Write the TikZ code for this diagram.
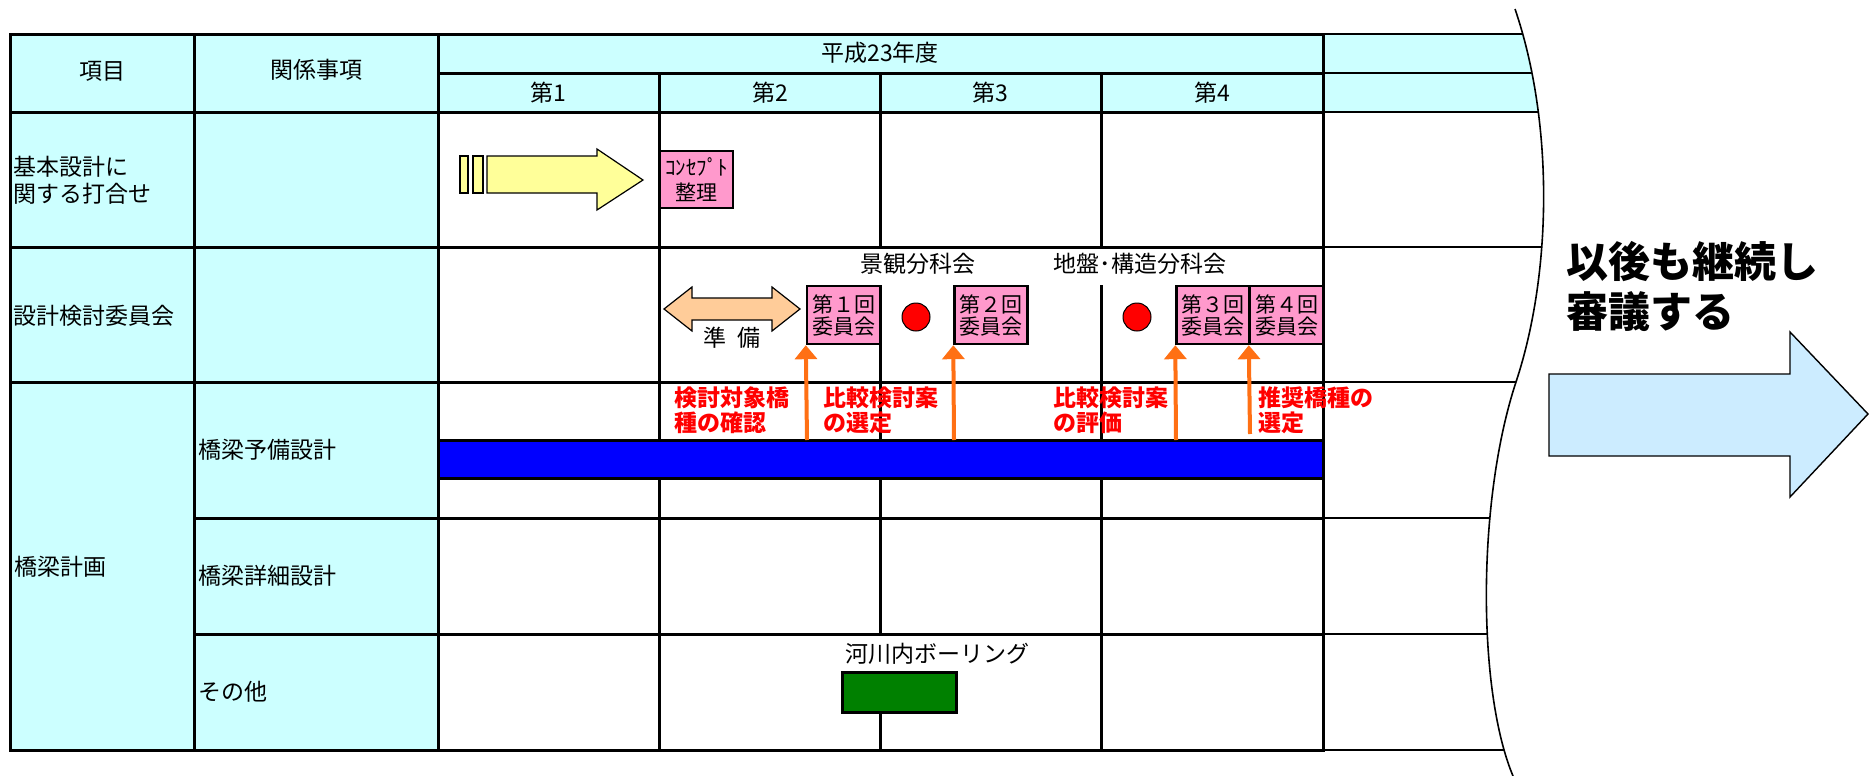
\documentclass[tikz,border=0pt]{standalone}
\usepackage{fontspec}
\setmainfont{Noto Sans CJK JP}
\usetikzlibrary{arrows.meta}
\definecolor{cy}{HTML}{CCFFFF}
\definecolor{pinkc}{HTML}{FF99CC}
\definecolor{yel}{HTML}{FFFF99}
\definecolor{peach}{HTML}{FFCC99}
\definecolor{orng}{HTML}{FF7014}
\definecolor{lblue}{HTML}{CCECFF}
\definecolor{grn}{HTML}{008000}
\definecolor{barblue}{HTML}{0000FF}
\definecolor{redc}{HTML}{FF0000}
\begin{document}
\begin{tikzpicture}[x=0.5pt,y=-0.5pt,
  tline/.style={line width=1.5pt, line cap=rect},
  rline/.style={line width=0.9pt},
  lbl/.style={font=\fontsize{11.5}{13.5}\selectfont, inner sep=0pt},
  lblw/.style={lbl, anchor=west, align=left},
  redlbl/.style={font=\fontsize{11.5}{12.5}\selectfont\bfseries, text=redc, anchor=west, align=left, inner sep=0pt},
  pinkbox/.style={draw, line width=1.2pt, fill=pinkc, minimum width=36.5pt, minimum height=29pt, inner sep=0pt, align=center, font=\fontsize{10.5}{11}\selectfont},
  orarrow/.style={draw=orng, line width=2pt, -{Triangle[width=11pt,length=7pt]}},
  dot/.style={circle, draw, fill=redc, minimum size=14pt, inner sep=0pt, line width=0.5pt},
  shapeline/.style={draw=black, line width=0.6pt},
  ]
\useasboundingbox (0,0) rectangle (1875,776);
\fill[white] (0,0) rectangle (1875,776);

% cyan regions
\fill[cy] (10,34) rectangle (438,750);
\fill[cy] (438,34) rectangle (1323,112);

% right continuation part
\begin{scope}
\clip (1323,0) -- (1515,0) -- (1515,9) .. controls (1553,120) and (1553,270) .. (1516,382)
      .. controls (1477,500) and (1477,690) .. (1513,776) -- (1323,776) -- cycle;
\fill[cy] (1323,34) rectangle (1600,112);
\foreach \yy in {34,73,112,247,382,518,634,750}{
  \draw[rline] (1323,\yy) -- (1600,\yy);
}
\end{scope}
\draw[line width=0.8pt] (1515,9) .. controls (1553,120) and (1553,270) .. (1516,382)
      .. controls (1477,500) and (1477,690) .. (1513,776);

% blue bar
\fill[barblue] (438,440) rectangle (1323,478);

% table lines
\draw[tline] (10,34) rectangle (1323,750);
\draw[tline] (438,73) -- (1323,73);
\draw[tline] (10,112) -- (1323,112);
\draw[tline] (10,247) -- (1323,247);
\draw[tline] (10,382) -- (1323,382);
\draw[tline] (194,518) -- (1323,518);
\draw[tline] (194,634) -- (1323,634);
\draw[tline] (438,440) -- (1323,440);
\draw[tline] (438,478) -- (1323,478);
\draw[tline] (194,34) -- (194,750);
\draw[tline] (438,34) -- (438,750);
\draw[tline] (659,73) -- (659,440);
\draw[tline] (659,478) -- (659,750);
\draw[tline] (880,73) -- (880,247);
\draw[tline] (880,286) -- (880,440);
\draw[tline] (880,478) -- (880,634);
\draw[tline] (880,712) -- (880,750);
\draw[tline] (1101,73) -- (1101,247);
\draw[tline] (1101,286) -- (1101,440);
\draw[tline] (1101,478) -- (1101,750);

% header texts
\node[lbl] (h1) at (102,71) {項目};
\node[lbl] (h2) at (316,70) {関係事項};
\node[lbl] (yr) at (880,53) {平成23年度};
\node[lbl] (q1) at (548,93) {第1};
\node[lbl] (q2) at (770,93) {第2};
\node[lbl] (q3) at (990,93) {第3};
\node[lbl] (q4) at (1212,93) {第4};

% row labels
\node[lblw] (r1) at (13,180.5) {基本設計に\\関する打合せ};
\node[lblw] (r2) at (13,316) {設計検討委員会};
\node[lblw] (r3) at (14,567) {橋梁計画};
\node[lblw] (s1) at (198,450) {橋梁予備設計};
\node[lblw] (s2) at (198,576) {橋梁詳細設計};
\node[lblw] (s3) at (198,692) {その他};

% yellow arrow (row 1)
\filldraw[fill=yel, shapeline] (460,156) rectangle (468,193);
\filldraw[fill=yel, shapeline] (473,156) rectangle (483,193);
\filldraw[fill=yel, shapeline] (487,156) -- (597,156) -- (597,149) -- (643,180) -- (597,210) -- (597,193) -- (487,193) -- cycle;
\node[pinkbox, minimum height=28.5pt, font=\fontsize{10.5}{12.5}\selectfont] (cpt) at (696.5,179.5) {ｺﾝｾﾌﾟﾄ\\整理};

% row 2
\filldraw[fill=peach, shapeline] (664,309) -- (692,287) -- (692,298) -- (772,298) -- (772,287) -- (800,309)
  -- (772,331) -- (772,320) -- (692,320) -- (692,331) -- cycle;
\node[lbl] (jb) at (732,338) {準\hspace{0.5em}備};
\node[lbl] (kei) at (918,264) {景観分科会};
\node[lbl] (jib) at (1140,264) {地盤･構造分科会};
\node[pinkbox] (b1) at (843.5,315) {第１回\\委員会};
\node[pinkbox] (b2) at (991,315) {第２回\\委員会};
\node[pinkbox] (b3) at (1213,315) {第３回\\委員会};
\node[pinkbox] (b4) at (1286.5,315) {第４回\\委員会};
\node[dot] (c1) at (916,317) {};
\node[dot] (c2) at (1137,317) {};

% orange arrows
\coordinate (o1) at (807,440);
\coordinate (o2) at (954,440);
\coordinate (o3) at (1176,440);
\coordinate (o4) at (1250,434);
\draw[orarrow] (o1) -- (b1.south west);
\draw[orarrow] (o2) -- (b2.south west);
\draw[orarrow] (o3) -- (b3.south west);
\draw[orarrow] (o4) -- (b4.south west);

% red labels
\node[redlbl] (t1) at (674,410.5) {検討対象橋\\種の確認};
\node[redlbl] (t2) at (823,410.5) {比較検討案\\の選定};
\node[redlbl] (t3) at (1053,410.5) {比較検討案\\の評価};
\node[redlbl] (t4) at (1258,410.5) {推奨橋種の\\選定};

% row 5
\node[lblw] (kb) at (845,654) {河川内ボーリング};
\node[draw, line width=1.5pt, fill=grn, minimum width=57pt, minimum height=20pt, inner sep=0pt] (gb) at (899,692) {};

% continuation
\node[anchor=west, align=left, font=\fontsize{21}{25}\selectfont\bfseries, inner sep=0pt] (cont) at (1566,286) {以後も継続し\\審議する};
\filldraw[fill=lblue, draw=black, line width=0.7pt] (1549,374) -- (1790,374) -- (1790,332) -- (1868,414) -- (1790,497) -- (1790,456) -- (1549,456) -- cycle;
\end{tikzpicture}
\end{document}
